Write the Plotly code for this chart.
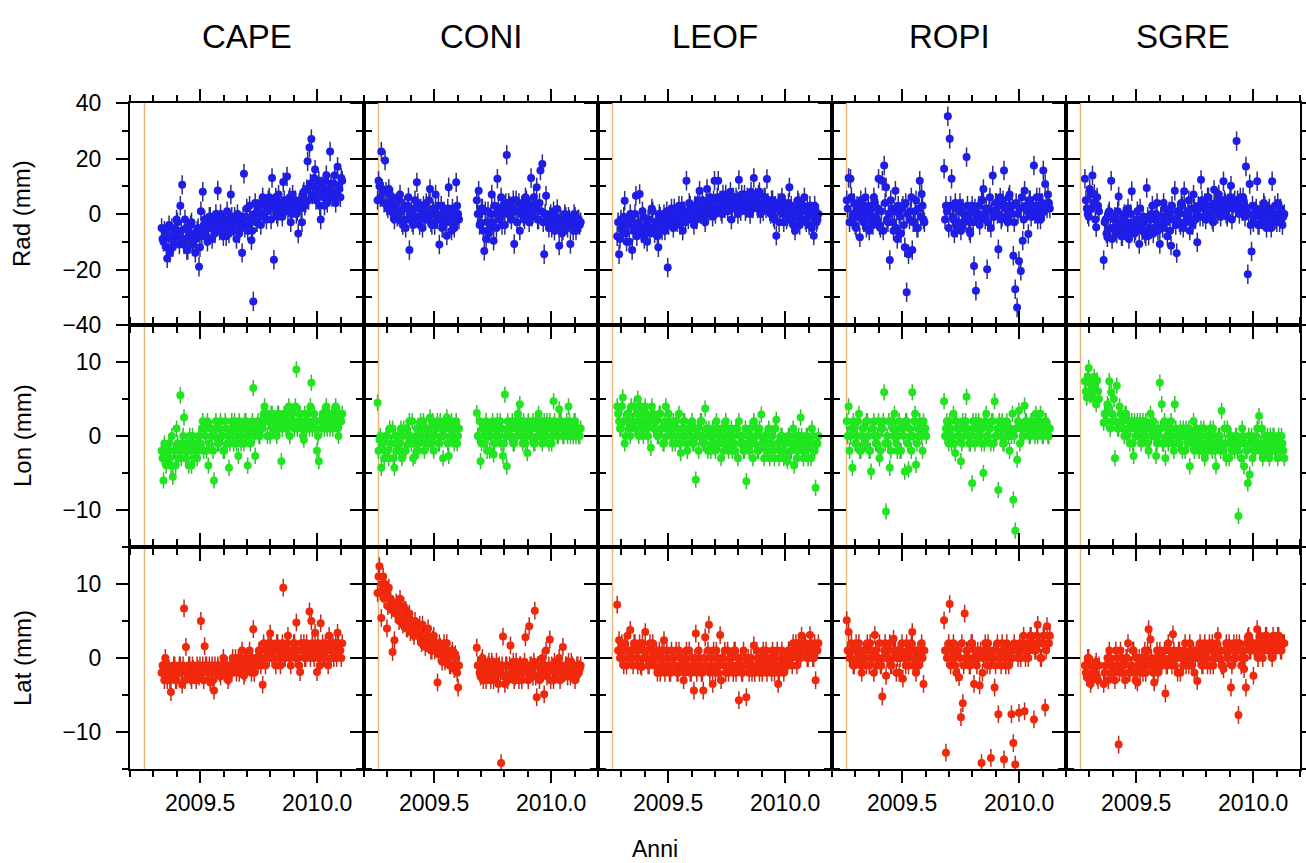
import numpy as np
import plotly.graph_objects as go
from plotly.subplots import make_subplots

# ---------------- data ----------------
STATIONS = ["CAPE", "CONI", "LEOF", "ROPI", "SGRE"]
COMPONENTS = ["Rad (mm)", "Lon (mm)", "Lat (mm)"]
FIRST_EPOCH = [2009.335, 2009.258, 2009.282, 2009.263, 2009.281]   # first sample of each station (yr)
SAMPLE_STEP = 0.008                                                  # spacing within each list (yr)
EARTHQUAKE_EPOCH = 2009.262                                          # 6 April 2009
SIGMA = [3.5, 1.1, 1.2]                                              # typical 1-sigma (mm) per component
X_RANGE = [2009.2, 2010.2]
X_TICKS = [2009.5, 2010.0]
X_TICK_TEXT = ["2009.5", "2010.0"]
Y_RANGES = [[-40, 40], [-15, 15], [-15, 15]]
Y_TICKS = [[-40, -20, 0, 20, 40], [-10, 0, 10], [-10, 0, 10]]
Y_MINOR_STEP = [10, 5, 5]
N = None

# "A" lists: samples at FIRST_EPOCH + k*STEP ; "B" lists: samples half a step later
CAPE_RAD = [-5, -10, -7, -16, -4, -9, -12, -6, -2, -8,
            3, 10.5, -11, -5, -13, -7, -3, -10, -14, -6,
            -19, 1, 8, -2, -8, -4, -1, -9, -5, 0,
            8.5, -6, -2, -8, -3, 1, -7, 7, -4, -1,
            -9, -2, -5, -14, 14.5, -1, -6, 3, -9.5, -31.5,
            4, -3, 1, -4, 6, 0, -2, 5, 3, 13,
            -16.5, 6, -1, 4, 1, 11.5, 2, 13.5, 5, -3,
            7, 3, 0, -7, 5, -3, 8, 4, 19, 24,
            27, 10, 16, 6, 12, -2, 8, 3, 14, 9,
            22.5, 6, 11, 4, 17, 9, 13]
CAPE_RAD_B = [-9, -6, -12, -8, -14, -5, -10, -7, -3, -11,
              -6, -9, -2, -13, -8, -4, -11, -7, -9, -5,
              -12, -8, -4, -6, -10, -1, -5, -3, -7, -2,
              -4, 0, -6, -3, -8, -2, -5, -1, -6, -3,
              0, -7, -3, -1, -5, 2, -4, -2, -6, 0,
              -3, 2, 0, 4, -1, 3, 1, 6, -2, 2,
              4, 0, 7, 2, -1, 5, 3, 1, 6, 0,
              3, 5, 1, 4, 2, 7, 3, 9, 5, 11,
              7, 13, 5, 9, 3, 10, 6, 12, 4, 8,
              11, 7, 14, 8, 10, 6, 12]
CAPE_LON = [-2, -6, -3, -2.7, -1, -4, -5.5, -2, 1, -3,
            5.5, -1, 2.5, -3, -2, 0, -4, -1, -2, -3,
            0, -1, 2, 1, -2, -4, 1, 0, -6, 2,
            -1, 1, 0, -2, 2, -1, -4.3, 1, 0, 2,
            -1, -2.7, 1, 0, -1, 2, -4, 0, 1, 6.5,
            -2.7, 1, 0, 2, 1, 4, 3, 2, 0, 3,
            1, 2, 3, 1, -3.4, 2, 3, 1, 4, 2,
            3, 1, 9, 2, 3, 1, -0.5, 2, 3, 1,
            7.2, 2, 1, -2, -3.4, 2, 3, 1, 4, 2,
            1, 3, 2, 4, 1, 3, 2]
CAPE_LON_B = [-3, -1, -4, -2, -3, 0, -2, -4, -1, -2,
              -3, 0, -2, -1, -4, -2, 0, -3, -1, -2,
              -1, 1, -2, 0, 2, -1, 1, -2, 0, 1,
              -1, 2, 0, -2, 1, 0, -1, 2, -1, 1,
              0, 2, -1, 1, 2, 0, 1, -1, 2, 0,
              1, 2, 0, 1, 3, 2, 0, 2, 3, 1,
              2, 0, 3, 2, 1, 3, 1, 2, 0, 3,
              2, 4, 1, 3, 2, 0, 3, 1, 2, 4,
              1, 3, 2, 0, 2, 1, 3, 2, 1, 3,
              2, 1, 3, 2, 0, 2, 3]
CAPE_LAT = [-2, -1, 0, -3, -1.5, -4.6, -2, -1, -3, -2,
            -1, -3.6, 6.7, 1.5, -2, -1, -3, -1.5, -2, -1,
            -2.5, 5, -1, 1.6, -1, -2, -3.3, -1, -4.4, -2,
            -1, -2, -1, 0, -2, -1, -2.5, -1, 0, -1,
            -2, 0, -1, 1, -2.4, 0, -1, 1, -2, 3.9,
            -1, 0, 1, -1, -3.6, 0, 1, 2, 3.3, 0,
            1, -1, 2, 0, 1, 9.5, 0, 2, 1, -1,
            1, 2, 4.8, 0, -1.9, 1, 2, 0, 1, 6.3,
            5, 1, 3.4, -1.9, 0, 4.7, 2, 0, 1, -1,
            2, 1, 0, 2, 3.4, 1, 0]
CAPE_LAT_B = [-1, -3, -2, -1, -3, -2, -1, -3, -2, -1,
              -2, -1, -3, -2, -1, -2.5, -1, -2, -3, -1.5,
              -1, -2, -3, -1, -2, -1, -2, -3, -1, -2,
              -1.5, -2.5, -1, -2, -1, -3, -1, -2, -1, 0,
              -1, -2, 0, -1, -2, 0, -1, -1, 0, -2,
              0, -1, 1, 0, 2, -1, 1, 0, 2, 1,
              0, 2, 1, -1, 2, 0, 1, 3, 0, 1,
              2, 0, 1, -1, 2, 1, 0, 2, 1, 0,
              2, 0, 1, 2, -1, 1, 0, 2, 1, 3,
              0, 2, 1, 0, 2, 1, 2]

CONI_RAD = [5, 10, 22.5, 8, 19.3, 3, 9, 1, 6, -2,
            4, 0, 7, -3, 2, -5, 3, -13, 1, -4,
            5, 11.4, -2, 2, -5, 0, 4, -1, 9, -4,
            1, 7, -2, -11, 3, -3.6, 0, -7.8, 9.6, -3,
            2, -5, 11.4, 0,
            N, N, N, N, N, N, N, N, N,
            5, 8.4, -3, 2, -13.3, -9, 1,
            -5, 7, -9.6, 0, 12.7, -2, 6, 3, -4, 21.3,
            4, 0, 2, -10.8, 5, 1, -6, 3, -1, 6,
            2, -3, 13, 0, 4, 9.6, -2, 15.7, 18, -14.5,
            6.6, -3, -1, -5, 1, -4, 1.8, -11.4, -2, -6,
            0, -4, -1, -10.8, -3, 0, -6, -2, -4]
CONI_RAD_B = [12, 6, 9, 4, 8, 2, 7, 5, 0, 3,
              -1, 5, 1, -4, 3, -2, 6, 0, -3, 2,
              -1, 4, -4, 1, 3, -2, 0, 5, -3, 2,
              -4, 0, 3, -2, -5, 1, -3, 2, -1, -6,
              0, -3, 3, -2,
              N, N, N, N, N, N, N, N, N,
              0, -4, 2, -6, 1, -3, -7,
              0, -3, 3, -5, 2, -1, -4, 1, 4, 0,
              3, -2, 5, 1, -3, 4, 0, 2, -2, 5,
              0, 3, -1, 6, 2, -2, 4, 1, -3, 0,
              -2, -5, 0, -3, -6, -1, -4, -2, -7, -3,
              -1, -5, -2, -3, -6, -1, -4, -2, -3]
CONI_LON = [4.5, -0.5, -4.3, -1, -2, 0, -3, -1, 1, -4.3,
            -2, 0, -1, -3, 1, -2, 0, 2, -1, -3,
            -2.7, 1, -1, 2, 0, -2, 1, -1, 2.5, 0,
            -2, 1, 2, -1, 0, -3, 1, 2.5, -2.7, 0,
            1, -1, 2, 0,
            N, N, N, N, N, N, N, N, N,
            3.1, 0, -3.4, 1, -1, 2, 0,
            -2, 1, -2.5, 0, 2, 1, -1, -2.7, 5.6, -4.1,
            1, 0, 2, -1, 1, 3, 4.3, 0, 2, -1,
            -2.3, 1, 0, 2, -1, 1, 3, 0, -1, 2,
            0, 1, 2, -1, 4.7, 1, 0, 3.6, 2, 0,
            1, 2, 4, 0, 1, 2, 0, 1, 0]
CONI_LON_B = [-2, 0, -1, -3, 0, -2, 1, -1, -3, 0,
              -1, -2, 1, 0, -2, 1, -1, 0, 2, -1,
              0, -2, 1, 0, 2, -1, 0, 1, -1, 2,
              0, 1, -1, 2, 1, 0, 2, -1, 1, 2,
              0, 1, -1, 1,
              N, N, N, N, N, N, N, N, N,
              0, 2, -1, 1, 0, -2, 1,
              0, 2, -1, 1, 0, 2, 1, -1, 0, 2,
              0, 1, -1, 2, 0, 1, 2, -1, 1, 0,
              2, 0, 1, -1, 2, 0, 1, 2, 0, 1,
              2, -1, 1, 0, 2, 1, 0, 2, 1, 0,
              1, 0, 2, 1, 0, 2, 1, 0, 1]
CONI_LAT = [8.8, 12.4, 5.4, 11, 10, 4, 9.5, 8, 0.8, 2.4,
            7.5, 6, 8, 5, 7, 6.5, 4, 6, 5, 3.5,
            5, 4, 3.5, 2.5, 4.5, 3, 2, 4, 2.5, 1,
            3, 1.5, -3.3, 2, 0.5, 1, -0.5, 2, 0, -1,
            1, -1.5, 0, -4,
            N, N, N, N, N, N, N, N, N,
            1.4, -1, -2.5, 0, -2, -3, -1,
            -2, -0.5, -3, -1.5, -2, -1, -14.2, 2.9, -3.5, -1,
            -2.5, 1.7, -1.5, -3, -0.5, -2, -1, -3, -1.5, 2.8,
            -2, 4.3, -1, -2.5, 6.4, -5.3, -1, -2, 0, -4.9,
            1, -2, 2.5, -1, -3, -1.5, -2, 0, -1, 1.5,
            -2, -1, -0.5, -2.5, -1, -1.5, -2, -1, -1.5]
CONI_LAT_B = [11, 9, 10, 8, 9, 7, 8, 6.5, 7, 6,
              6, 5, 7, 4.5, 5.5, 4, 5, 3.5, 4.5, 3,
              4, 3, 4.5, 2, 3, 1.5, 3, 2, 1, 2.5,
              1, 2, 0.5, 1.5, -0.5, 2, 0, 1, -1, 0.5,
              -1, 0.5, -2, -1,
              N, N, N, N, N, N, N, N, N,
              -1, -2, -0.5, -3, -1, -2, -0.5,
              -3, -1, -2, -0.5, -3.5, -2, -1, -2.5, -1, -3,
              -1, -2, -0.5, -2.5, -1.5, -3, -1, -2, -0.5, -2,
              -3, -1, -2, -0.5, -2.5, -1, -3, -1.5, -2, -1,
              -2.5, -1, -3, -1.5, -0.5, -2, -1, -3, -1.5, -2,
              -1, -2.5, -1.5, -0.5, -2, -3, -1, -2, -1]

LEOF_RAD = [-8, -14.5, -2, -6, 4.8, -10, -3, 0, -13, -5,
            6.6, -4, 7.2, -7, -1, -6, -10, -2, -5, 1,
            -7, -3, -12, -1, -6, 0, -4, -19.3, -2, 2,
            -5, 0, -3, 3, -1, -6, 1, 12, -2, 3,
            0, -4, 2, 5, 8.4, 0, 3, -3, 9, 1,
            4, -1, 12, 2, 12, 5, 0, 3, 7, 1,
            4, -2, 6, 2, 5, 12.3, 1, 4, 7, 2,
            5, 0, 3, 13, 6, 2, 8, 4, 1, 6,
            12.6, 3, 0, 5, -2, -7.8, 4, 1, 6, -3,
            2, -1, 9.6, 3, -4, -6, 1, 4, -2, 2,
            6, -3, 0, 3, -5, -7.8, 1, -2]
LEOF_RAD_B = [-3, -9, -5, -1, -7, -4, -10, -2, -6, 0,
              -8, -3, -5, 1, -9, -4, -2, -7, 2, -5,
              -3, -8, 0, -5, -2, -6, 1, -4, -1, -3,
              2, -2, 0, -4, 3, 1, -3, 0, 4, -1,
              1, 3, -2, 2, 0, 5, -1, 4, 2, 6,
              2, 5, 0, 6, 3, 1, 7, 2, 5, 4,
              8, 2, 4, 6, 0, 3, 7, 5, 1, 6,
              3, 8, 2, 5, 4, 7, 0, 3, 6, 2,
              4, 1, 5, -1, 3, 2, -3, 4, 0, 2,
              -2, 4, 0, -3, 2, -1, 5, -4, 1, 3,
              -2, 2, -4, 1, -1, 3, -3, 0]
LEOF_LON = [4, 2, 1, 5.2, -1, 2, 3, 0, 2, 4,
            1, 5, 2, 3, 0, 4, 1, 2, -1.6, 3,
            1, 2, 0, 3, 1, -1, 4, 1, 2, 0,
            2, -1, 1, 3, -2.3, 0, 2, -1, 1, 0,
            2, -1, -5.9, 1, 0, 2, -1, 3.7, 0, 1,
            -2, 1, 0, 2, -1, 0, 1, -2, 2, 0,
            -1, 1, 0, -2, 1, 2, -1, 0, -2, -6.1,
            0, 1, -1, 2, 0, -2, 1, 2.9, -1, 0,
            -2, 1, -1, 0, -3, 2.2, -1, -2, 0, -3,
            -1, -3.4, 0, -2, 1, -1, -3, 0, 2.5, -2,
            -1, 0, -3, -1, 1, -2, -7, -1]
LEOF_LON_B = [3, 1, 4, 2, 0, 3, 1, 4, 2, 1,
              3, 0, 4, 1, 2, 3, 0, 2, 4, 1,
              2, 0, 3, 1, -1, 2, 0, 3, 1, -1,
              1, 2, 0, -1, 1, 2, 0, -2, 1, 0,
              -1, 1, 0, -2, 2, 0, -1, 1, -2, 0,
              -1, 0, -2, 1, -1, -3, 0, -1, 1, -2,
              0, -2, -1, 1, -3, 0, -1, -2, 1, -1,
              -2, 0, -3, -1, 1, -2, 0, -1, -3, 0,
              -1, -3, 0, -2, 1, -1, -3, 0, -2, -1,
              -3, 0, -2, -1, -4, 0, -2, -1, 0, -3,
              -2, 0, -1, -3, 0, -2, -1, 0]
LEOF_LAT = [7.2, 2.4, 1, 0, 2, -1, 1, 3.8, 0, 2,
            1, -1, 2, -1.2, 0, 3.5, 1, -1, 0, 2,
            -1, 1, 0, -2, 1, 2.4, -1, 0, -2, 1,
            0, -1, -2, 1, -1, 0, -2, 1, -1, -2,
            0, -4.4, 3.3, -1, 0, -2, -4.4, 2.8, -1, 4.5,
            0, -3.5, -1, 1, -2, 3.1, 0, -1, -2, 1,
            -1, 0, -2, 1, -1, -5.7, 0, -2, -1, -5.3,
            0, -1, -2, 1.7, -1, 0, -2, -1, 1, 0,
            -2, -1, 0, 1, -2, 0, -3.5, -1, 1, -2,
            0, -1, 1, 0, 2, 1, -1, 2, 0, 1,
            2, 1, 0, 3.1, 1, 0, -3, 1]
LEOF_LAT_B = [1, 0, 2, -1, 1, 3, 0, 1, -1, 2,
              0, 1, -1, 2, 1, 0, -1, 2, 1, 0,
              0, -2, 1, -1, 0, -2, 1, -1, -2, 0,
              -1, 1, -2, 0, -1, -3, 0, -1, 1, -2,
              -1, 0, -2, 1, -1, -2, 0, -1, 1, -2,
              -1, 1, -2, 0, -1, -3, 0, 1, -1, -2,
              0, -1, 1, -2, 0, -1, -2, 1, 0, -1,
              -2, 0, -1, -2, 1, -1, 0, -2, -1, 1,
              0, -1, -2, 0, -1, 1, -2, 0, -1, 0,
              -1, 1, 0, -1, 1, 2, 0, 1, 3, 1,
              2, 0, 1, 2, 0, 2, 1, 2]

ROPI_RAD = [5, 13, 12.7, -2, 4, -5, 1, -8.4, 3, -3,
            6, -1, -6, 2, -4, 4, -2, 12.7, -5, 12,
            17.5, 9.6, -3, -16.6, 2, -6, 8.4, -9, 0, -7,
            3, -12, -28.2, -14.5, 1, -13, -3, 5, -5, 12,
            7.2, -2,
            N, N, N, N, N, N, N, N, N, N,
            16.3, 3, 35.2, 27.1, 12.7, -2, 4, -5,
            1, -6, 2, -3, 20.5, -1, -7, 3, -18.7, -27.7,
            0, -4, 5, 9, -2, -19.9, 2, -5, 13.9, 1,
            4, -12.7, 6, -1, 15.7, 3, -3, 7, 0, -15,
            -27.1, -33.7, -16.9, -20.5, -9.6, 8.4, 2, -7.2, 5, 1,
            17.5, 3, -2, 6, 0, 15.7, 10.8, 2, 4]
ROPI_RAD_B = [2, -3, 6, 0, -4, 3, -1, 5, -2, 1,
              -5, 3, 0, -3, 6, -1, 2, -4, 1, -6,
              4, -2, 0, 5, -3, 1, -5, 3, -1, 2,
              -4, 4, 0, -2, 6, -3, 1, -5, 2, -1,
              3, -3,
              N, N, N, N, N, N, N, N, N, N,
              -2, 1, -5, 3, -1, -7, 2, -3,
              4, -4, 0, -2, 3, -6, 1, -3, 2, -1,
              3, -2, 5, 0, 2, -3, 6, 1, -1, 4,
              0, 3, -2, 5, 2, -1, 6, 1, 3, -3,
              4, 0, 2, 6, -2, 3, 1, 5, -1, 3,
              0, 6, 2, -2, 4, 1, 3, 7, 2]
ROPI_LON = [2, 4, 0, -4.3, 1, -1, 2, -2, 0, 1,
            -1, 2, -2, -4.8, 1, 0, -1, 2, -2, 1,
            5.9, -10.2, -1, -4.3, 2, 0, 1, -2, 2, -2,
            1, -4.8, 2, -4.5, 0, 5.9, 2, -3.9, 1, 2,
            0, 2, 1,
            N, N, N, N, N, N, N, N, N,
            4.7, 1, 0, 2, -1, 3, -2.3, 1,
            0, -3.4, 2, 1, 5.3, 0, -1, -6.4, 1, 2,
            0, 1, -1, -5, 2, 0, 1, -1, 2, 4.7,
            0, -7.3, 1, 2, -1, 0, 1, -2, 0, -8.6,
            -12.8, -3.2, 3.4, 1, 0, 4.1, 2, 1, 0, 2,
            1, 3, 0, 2, 1, 0, 2, 1, 0]
ROPI_LON_B = [0, -2, 1, 2, -1, 0, 3, -2, 1, -1,
              2, 0, -2, 1, 2, -1, 0, -3, 1, 2,
              -1, 0, 2, -2, 1, 3, -1, 0, -2, 1,
              0, 2, -1, 1, -2, 0, 3, -1, 0, 1,
              -2, 1, 0,
              N, N, N, N, N, N, N, N, N,
              0, 2, -1, 1, 0, -1, 2, 0,
              1, -1, 0, 2, 1, -1, 0, 2, -1, 1,
              2, 0, 1, -1, 3, 0, 1, 2, -1, 0,
              1, 2, 0, -1, 1, 2, 0, 1, 3, 0,
              1, 2, -1, 1, 0, 2, 1, 0, 2, 1,
              0, 2, 1, 3, 0, 1, 2, 0, 1]
ROPI_LAT = [5.1, 3.5, 0, 1, -1, 2, 0, 1, -2, 1,
            0, 2, -1, 1, 0, 3.1, -1, 0, -1, -5.2,
            1, -2.4, 0, 2, -1, 2.6, 1, 0, -2, 1,
            -2.8, 0, 2, -1, 1, 3.5, 0, -2, 1, 0,
            2, -3.5,
            N, N, N, N, N, N, N, N, N, N,
            5.1, -12.8, 1, 7.3, 0, 2, -1, 1,
            -2.6, -8, -6.1, 6, 1, 0, -1, 2, -3.5, 0,
            1, -3.7, -14.2, 0, 2, -1, 1, -13.5, 0, -4,
            1, -7.6, 0, 2, -13.7, -1, 1, 0, -7.6, -11.5,
            -14.4, 1, -7.4, 0, 2, -7.2, 1, 0, 3, 2,
            -8.3, 1, 4.5, 2, 0, 3, -6.7, 4.3, 2]
ROPI_LAT_B = [1, 0, 2, -1, 1, 0, 2, -1, 0, 1,
              -1, 1, 2, 0, -2, 1, 0, 2, -1, 0,
              2, 0, 1, -1, 0, 1, -2, 1, 0, 2,
              0, -1, 1, 0, 2, -1, 1, 0, -1, 1,
              0, 1,
              N, N, N, N, N, N, N, N, N, N,
              1, 0, 2, -1, 1, 0, -2, 1,
              0, 2, -1, 0, 1, -1, 2, 0, 1, -1,
              0, 1, -2, 1, 0, 2, -1, 0, 1, -1,
              2, 0, -1, 1, 0, 2, -1, 1, 0, 2,
              1, 0, 2, 1, 3, 0, 2, 1, 3, 2,
              1, 3, 2, 0, 2, 3, 1, 2, 3]

SGRE_RAD = [12.7, 2, -1, 7, 13.9, 7.2, -4.8, 3, N, N,
            -16.6, -2, -8.4, 1, 12, -5, -1, -7, 6.3, -3,
            -8, 0, -5, 2, -7, 8.2, -3, -6, 1, -10.8,
            -4, -1, -7, 9.4, -7.8, -2, 3, -5, 0, -6,
            -10.8, -1, 4, -3, -8, 1, -11.4, -2, 8.4, -14.1,
            0, -4, 3, 8.2, -3, 1, -6, 2, 7, -2,
            -10.2, 2, 12.3, -1, 4, 0, 6, 2, -2, 8.7,
            3, 0, 5, 1, 11.8, 4, -1, 3, 10.2, 2,
            5, 26.3, 3, 6, 1, 4, 17.1, -21.7, 10.8, -13.5,
            -3, 1, 11.8, -4, 0, -2, 3, -5, 1, -3,
            11.8, 0, -2, 4, -3, 1, -1]
SGRE_RAD_B = [5, 0, 9, 2, 4, -2, 6, 1, N, N,
              -3, -7, 0, -5, -9, -2, -6, 1, -4, -8,
              -1, -6, -3, -9, 0, -5, -7, -2, -4, 2,
              -6, -3, -8, -1, -5, 0, -7, -2, 4, -4,
              -1, -5, 2, -3, 0, -6, 3, -2, -4, 1,
              -3, 4, -5, 0, -1, 5, -2, -4, 2, 0,
              3, -1, 5, 2, -2, 6, 0, 3, -3, 4,
              1, 7, -1, 3, 5, 0, 2, 6, -2, 4,
              2, 5, 0, 3, 6, -1, 2, 0, -4, 3,
              -1, 2, -4, 1, -2, 4, -3, 0, 2, -5,
              -1, 3, -3, 0, 2, -4, 0]
SGRE_LON = [7.4, 5.2, 9.2, 7, 6.5, 8, 4.3, 6, N, N,
            1.8, 3, 4.3, 7.4, 5.9, 2, -3, 6.8, 1, 3,
            2, 0, 3, 1, -1, 2, -2.7, 0, 2, 1,
            -1, 2, 0, 1, -2, 3, 1, 0, -2.7, 1,
            7.2, 4.3, -1, -3, 1, 0, 2, -1, 4.3, 0,
            -1, 1, -2, 0, 1, -1, -4.1, 0, 2, -1,
            0, -2, 1, -1, -3, 0, -1, 1, -2, 0,
            -4.1, -1, 0, 3.4, -2, -1, 1, -3, 0, -1,
            -2, 0, -10.8, -1, 1, -4.1, -2, -6.4, -5.2, 0,
            -1, -2, 1, 2.7, -1, -3, 0, -2, -1, 0,
            -2, 0, -1, -3, -1, 0, -2]
SGRE_LON_B = [6, 8, 5.5, 7, 5, 6.5, 7.5, 5, N, N,
              3, 2, 4, 1, 3, 5, 2, 1, 4, 2,
              1, 3, 0, 2, 1, -1, 2, 1, 0, 2,
              1, 0, 2, -1, 1, 0, 2, 1, -1, 0,
              1, -1, 2, 0, -1, 1, 0, -2, 1, 0,
              -1, 0, 1, -2, 0, 1, -1, 0, -2, 1,
              -1, 0, -2, 1, -1, -2, 0, -1, 1, -2,
              -1, 0, -2, -1, 1, -3, -1, 0, -2, -1,
              0, -2, -1, -3, 0, -1, -2, 0, -1, -3,
              -2, 0, -1, -2, 1, -1, -2, 0, -3, -1,
              0, -2, -1, 0, -2, -1, -3]
SGRE_LAT = [-1, -2.6, 0, -3.5, -1, -2, -0.5, -3, N, N,
            -3.5, -1, 0, 1, -2, -1, -3, 0, -11.7, 1,
            -2, -1, 0, 2, -2, -1, 1, -3, -3.3, 0,
            -1, -2, 1, 0, 3.9, 2.5, -1, -3.3, 0, -2,
            1, -1, 0, -4.8, -1, 1, 0, 3.2, -1, 0,
            1, -2, 0, 1, -1, 0, 2, -1, 1, 0,
            -3.1, 1, 0, -1, 2, 0, 1, -1, 2, 0,
            1, 3, 0, -1, -1.5, 1, 0, 2, -4, 1,
            0, 2, -7.7, 1, 0, -1.5, -4, 2.8, 1, 2,
            -2.4, 1, 3.9, 2, 1, 0, 2, 3, 1, 2,
            0, 2, 1, 3, 2, 1, 2]
SGRE_LAT_B = [-2, 0, -1, -3, -2, -1, -2.5, -1, N, N,
              -2, -1, -3, 0, -1, -2, 1, -1, -2, 0,
              -1, -3, 0, -2, -1, 1, -2, 0, -1, -2,
              0, -1, -2, 1, -1, 0, -2, -1, 1, 0,
              -1, 0, 1, -1, 2, 0, -1, 1, 0, -2,
              1, 0, -1, 2, 0, -1, 1, 0, -2, 1,
              0, 2, -1, 1, 0, -1, 2, 1, -1, 0,
              2, 0, 1, -1, 1, 2, 0, 1, -1, 2,
              0, 1, 2, -1, 1, 0, 2, 3, 1, 2,
              1, 2, 0, 3, 2, 1, 3, 2, 1, 2,
              3, 1, 2, 3, 1, 2, 2]

SERIES_A = [
    [CAPE_RAD, CONI_RAD, LEOF_RAD, ROPI_RAD, SGRE_RAD],
    [CAPE_LON, CONI_LON, LEOF_LON, ROPI_LON, SGRE_LON],
    [CAPE_LAT, CONI_LAT, LEOF_LAT, ROPI_LAT, SGRE_LAT],
]
SERIES_B = [
    [CAPE_RAD_B, CONI_RAD_B, LEOF_RAD_B, ROPI_RAD_B, SGRE_RAD_B],
    [CAPE_LON_B, CONI_LON_B, LEOF_LON_B, ROPI_LON_B, SGRE_LON_B],
    [CAPE_LAT_B, CONI_LAT_B, LEOF_LAT_B, ROPI_LAT_B, SGRE_LAT_B],
]

# ---------------- style ----------------
FONT = "Liberation Sans, Arial, Helvetica, sans-serif"
MARKER_COLORS = ["#1e1ee8", "#1fe61f", "#f0280c"]
BAR_COLORS = ["#2c2c86", "#30c030", "#c42a18"]
QUAKE_COLOR = "#e3b87a"

fig = make_subplots(rows=3, cols=5, horizontal_spacing=0, vertical_spacing=0)

for r in range(3):
    for c in range(5):
        ya = SERIES_A[r][c]
        yb = SERIES_B[r][c]
        ta = FIRST_EPOCH[c] + SAMPLE_STEP * np.arange(len(ya))
        tb = FIRST_EPOCH[c] + SAMPLE_STEP * (np.arange(len(yb)) + 0.5)
        x = np.concatenate([tb, ta])
        y = list(yb) + list(ya)
        fig.add_trace(go.Scatter(
            x=x, y=y, mode="markers",
            marker=dict(size=8, color=MARKER_COLORS[r], line=dict(width=0)),
            error_y=dict(type="constant", value=SIGMA[r], color=BAR_COLORS[r],
                         thickness=1.5, width=0),
            hoverinfo="x+y", showlegend=False,
        ), row=r + 1, col=c + 1)
        idx = r * 5 + c + 1
        xref = "x" if idx == 1 else f"x{idx}"
        yref = "y domain" if idx == 1 else f"y{idx} domain"
        fig.add_shape(type="line", xref=xref, yref=yref,
                      x0=EARTHQUAKE_EPOCH, x1=EARTHQUAKE_EPOCH, y0=0, y1=1,
                      line=dict(color=QUAKE_COLOR, width=1.5), layer="below")

        fig.update_xaxes(
            range=X_RANGE, tickmode="array", tickvals=X_TICKS, ticktext=X_TICK_TEXT,
            showticklabels=(r == 2), ticks="outside", ticklen=12, tickwidth=1.5,
            tickcolor="black", mirror="allticks", showline=True, linewidth=2,
            linecolor="black", showgrid=False, zeroline=False, automargin=False,
            minor=dict(ticks="outside", ticklen=6, tickwidth=1.5, tickcolor="black",
                       tickmode="linear", tick0=X_RANGE[0], dtick=0.1, showgrid=False),
            tickfont=dict(family=FONT, size=23, color="black"),
            ticklabelstandoff=0,
            row=r + 1, col=c + 1)
        fig.update_yaxes(
            range=Y_RANGES[r], tickmode="array", tickvals=Y_TICKS[r],
            showticklabels=(c == 0), ticks="outside", ticklen=12, tickwidth=1.5,
            tickcolor="black", mirror="allticks", showline=True, linewidth=2,
            linecolor="black", showgrid=False, zeroline=False, automargin=False,
            minor=dict(ticks="outside", ticklen=6, tickwidth=1.5, tickcolor="black",
                       tickmode="linear", tick0=0, dtick=Y_MINOR_STEP[r], showgrid=False),
            tickfont=dict(family=FONT, size=23, color="black"),
            ticklabelstandoff=10,
            row=r + 1, col=c + 1)

W, H = 1306, 863
ML, MR, MT, MB = 130, 6, 103, 94
PW, PH = W - ML - MR, H - MT - MB

annotations = []
for c, name in enumerate(STATIONS):
    annotations.append(dict(text=name, xref="paper", yref="paper",
                            x=(c + 0.5) / 5, y=1 + (MT - 37) / PH,
                            xanchor="center", yanchor="middle", showarrow=False,
                            font=dict(family=FONT, size=33, color="black")))
for r, lab in enumerate(COMPONENTS):
    annotations.append(dict(text=lab, xref="paper", yref="paper",
                            x=(22 - ML) / PW, y=1 - (r + 0.5) / 3,
                            xanchor="center", yanchor="middle", textangle=-90,
                            showarrow=False,
                            font=dict(family=FONT, size=24, color="black")))
annotations.append(dict(text="Anni", xref="paper", yref="paper",
                        x=(655 - ML) / PW, y=-(849 - (H - MB)) / PH,
                        xanchor="center", yanchor="middle", showarrow=False,
                        font=dict(family=FONT, size=23, color="black")))

fig.update_layout(
    width=W, height=H,
    margin=dict(l=ML, r=MR, t=MT, b=MB, autoexpand=False),
    paper_bgcolor="white", plot_bgcolor="white",
    showlegend=False, annotations=annotations,
    font=dict(family=FONT, color="black"),
)

# remove the browser's default 8px page margin so the figure sits at the page origin
fig.write_html("out.html", config={"displayModeBar": False},
               post_script="document.body.style.margin='0px';")
